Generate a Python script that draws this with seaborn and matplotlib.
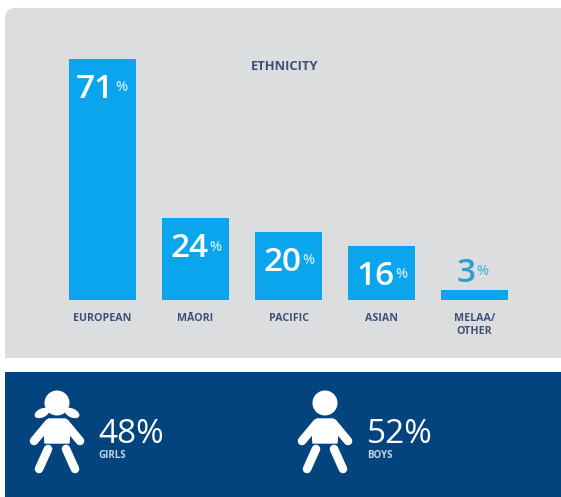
import matplotlib
matplotlib.use('Agg')
import matplotlib.pyplot as plt
import seaborn as sns
import pandas as pd
from matplotlib.patches import Circle, Ellipse, FancyBboxPatch, Polygon, Rectangle

# Data
categories = ['EUROPEAN', 'MĀORI', 'PACIFIC', 'ASIAN', 'MELAA/\nOTHER']
values = [71, 24, 20, 16, 3]
gender_labels = ['GIRLS', 'BOYS']
gender_values = [48, 52]

BAR = '#0AA5EC'
GREY = '#DCDDDF'
NAVY = '#03447F'
LABEL = '#3D5078'
W, H = 561, 497

sns.set_theme(style='white')
plt.rcParams['font.family'] = ['Open Sans', 'DejaVu Sans']

fig = plt.figure(figsize=(W / 100, (H + 0.1) / 100), dpi=100, facecolor='white')

# Background layer in pixel coordinates
bg = fig.add_axes([0, 0, 1, 1], zorder=0)
bg.set_xlim(0, W)
bg.set_ylim(H, 0)
bg.axis('off')
bg.add_patch(FancyBboxPatch((5, 8), W + 40, 380, boxstyle='round,pad=0,rounding_size=10',
                            fc=GREY, ec='none', lw=0))
bg.add_patch(Rectangle((0, 358), W, 14, fc='white', ec='none', zorder=2))
bg.add_patch(Rectangle((5, 372), W, 130, fc=NAVY, ec='none', zorder=2))

# Bar chart
ax = fig.add_axes([56 / W, (H - 300) / H, 465 / W, 241 / H], zorder=1)
ax.patch.set_alpha(0)
df = pd.DataFrame({'category': categories, 'value': values})
sns.barplot(data=df, x='category', y='value', color=BAR, saturation=1, width=0.72, linewidth=0, ax=ax)
ax.set_xlim(-0.5, 4.5)
ax.set_ylim(0, 71)
ax.set_xlabel('')
ax.set_ylabel('')
ax.set_yticks([])
ax.tick_params(axis='x', length=0, pad=9, labelsize=7.7, labelcolor=LABEL)
for lab in ax.get_xticklabels():
    lab.set_fontweight('bold')
    lab.set_linespacing(1.35)
sns.despine(ax=ax, left=True, bottom=True)

# Value labels: inside the bar, except for the thin last one
for i, v in enumerate(values):
    inside = v > 5
    dx = 8.5 if v == 71 else 9.5 if inside else 0.5
    dy = -28 if inside else 5.5
    num_col = 'white' if inside else '#2A9FD0'
    pct_col = '#BFE6FA' if inside else '#5DB8DC'
    ax.annotate(str(v), (i, v), xytext=(dx, dy), textcoords='offset points', ha='right', va='baseline',
                fontsize=24, fontweight='semibold', color=num_col, annotation_clip=False)
    ax.annotate('%', (i, v), xytext=(dx + 0.8, dy + 5), textcoords='offset points', ha='left',
                va='baseline', fontsize=10, fontweight='semibold', color=pct_col, annotation_clip=False)

bg.text(284.5, 66, 'ETHNICITY', ha='center', va='center', fontsize=9.4, fontweight='bold', color=LABEL)


def limb(x0, y0, x1, y1, lw=6.2):
    bg.plot([x0, x1], [y0, y1], color='white', lw=lw, solid_capstyle='round', zorder=4)


def child(cx, girl):
    # pictogram of a child, drawn around its centre line
    bg.add_patch(Circle((cx, 403), 12.5, fc='white', ec='none', zorder=4))
    if girl:
        bg.add_patch(Ellipse((cx - 15, 413), 17, 10, angle=-25, fc='white', ec=NAVY, lw=0.8, zorder=3.9))
        bg.add_patch(Ellipse((cx + 15, 413), 17, 10, angle=25, fc='white', ec=NAVY, lw=0.8, zorder=3.9))
    bg.add_patch(Polygon([(cx - 8, 419), (cx + 8, 419), (cx + 13, 428), (cx + 12, 443), (cx - 12, 443), (cx - 13, 428)],
                         closed=True, fc='white', ec='white', lw=1, joinstyle='round', zorder=4))
    limb(cx - 8, 423, cx - 23, 441)
    limb(cx + 8, 423, cx + 23, 441)
    limb(cx - 9, 449, cx - 18, 469)
    limb(cx + 9, 449, cx + 18, 469)


child(57, True)
child(325, False)

# Gender figures
for x, lab, v in zip([98, 367], gender_labels, gender_values):
    bg.text(x, 443, f'{v}%', ha='left', va='baseline', fontsize=24, fontweight='medium', color='white', zorder=5)
    bg.text(x, 458, lab, ha='left', va='baseline', fontsize=7, fontweight='bold', color='#C4D3E3', zorder=5)

fig.savefig('out.png', dpi=100)
